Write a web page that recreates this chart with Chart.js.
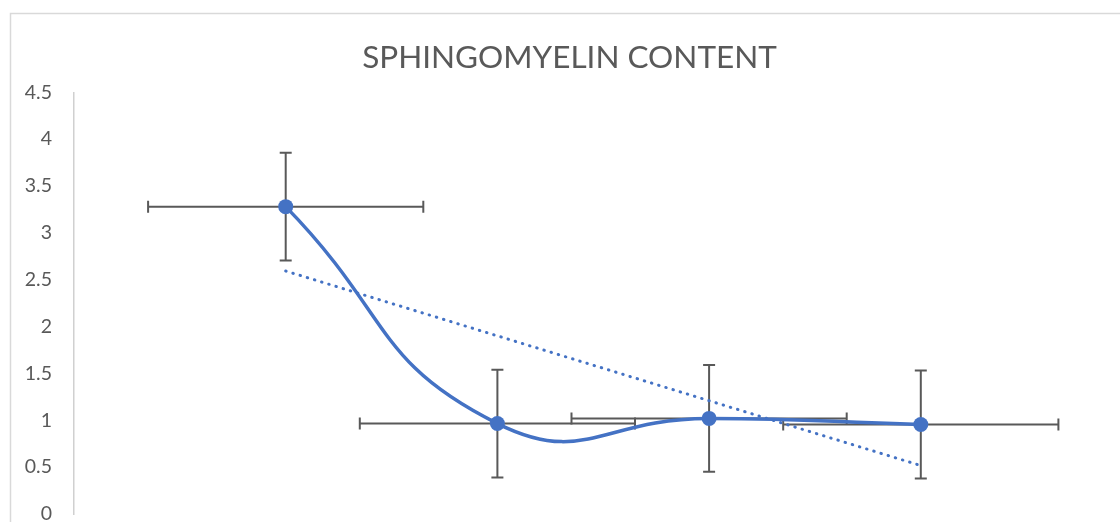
<!DOCTYPE html>
<html>
<head>
<meta charset="utf-8">
<script src="https://cdn.jsdelivr.net/npm/chart.js@4/dist/chart.umd.min.js"></script>
<style>
  html, body { margin: 0; padding: 0; background: #fff; overflow: hidden; }
  #wrap { position: absolute; left: 0; top: 0; width: 1160px; height: 540px; }
</style>
</head>
<body>
<div id="wrap"><canvas id="chart"></canvas></div>
<script>
// -----------------------------
// Data
// -----------------------------
const chartTitle = 'SPHINGOMYELIN CONTENT';
const xValues = [1, 2, 3, 4];
const smValues = [3.28, 0.965, 1.02, 0.955];
const yErrors = [0.575, 0.575, 0.57, 0.575];
const xErrors = [0.65, 0.65, 0.65, 0.65];
const yTicks = [0, 0.5, 1, 1.5, 2, 2.5, 3, 3.5, 4, 4.5];

// linear trendline (least squares, like the spreadsheet's)
function linearFit(xs, ys) {
  const n = xs.length;
  const mx = xs.reduce((a, b) => a + b, 0) / n;
  const my = ys.reduce((a, b) => a + b, 0) / n;
  let num = 0, den = 0;
  for (let i = 0; i < n; i++) {
    num += (xs[i] - mx) * (ys[i] - my);
    den += (xs[i] - mx) * (xs[i] - mx);
  }
  const slope = num / den;
  return x => my + slope * (x - mx);
}
const trend = linearFit(xValues, smValues);

const GREY = '#595959';
const BLUE = '#4472C4';

// -----------------------------
// Plugins: chart border + error bars
// -----------------------------
const frame = {
  id: 'frame',
  beforeDraw(chart) {
    const ctx = chart.ctx;
    ctx.save();
    ctx.strokeStyle = '#d9d9d9';
    ctx.lineWidth = 1.5;
    ctx.strokeRect(10.5, 13.5, chart.width + 50, chart.height + 50);
    ctx.restore();
  }
};

const errorBars = {
  id: 'errorBars',
  beforeDatasetsDraw(chart) {
    const { ctx, scales: { x, y } } = chart;
    const cap = 6;
    ctx.save();
    ctx.strokeStyle = GREY;
    ctx.lineWidth = 2;
    xValues.forEach((xv, i) => {
      const px = x.getPixelForValue(xv);
      const py = y.getPixelForValue(smValues[i]);
      const top = y.getPixelForValue(smValues[i] + yErrors[i]);
      const bot = y.getPixelForValue(smValues[i] - yErrors[i]);
      const lft = x.getPixelForValue(xv - xErrors[i]);
      const rgt = x.getPixelForValue(xv + xErrors[i]);
      ctx.beginPath();
      // vertical
      ctx.moveTo(px, top); ctx.lineTo(px, bot);
      ctx.moveTo(px - cap, top); ctx.lineTo(px + cap, top);
      ctx.moveTo(px - cap, bot); ctx.lineTo(px + cap, bot);
      // horizontal
      ctx.moveTo(lft, py); ctx.lineTo(rgt, py);
      ctx.moveTo(lft, py - cap); ctx.lineTo(lft, py + cap);
      ctx.moveTo(rgt, py - cap); ctx.lineTo(rgt, py + cap);
      ctx.stroke();
    });
    ctx.restore();
  }
};

// -----------------------------
// Chart
// -----------------------------
const ctx = document.getElementById('chart').getContext('2d');
new Chart(ctx, {
  type: 'scatter',
  data: {
    datasets: [
      {
        label: 'Sphingomyelin',
        data: xValues.map((xv, i) => ({ x: xv, y: smValues[i] })),
        showLine: true,
        borderColor: BLUE,
        backgroundColor: BLUE,
        borderWidth: 3.5,
        tension: 0.5,
        pointRadius: 7.5,
        pointBorderWidth: 0,
        pointBackgroundColor: BLUE,
        order: 2
      },
      {
        label: 'Linear trend',
        data: [xValues[0], xValues[xValues.length - 1]].map(xv => ({ x: xv, y: trend(xv) })),
        showLine: true,
        borderColor: BLUE,
        borderWidth: 3,
        borderDash: [0.5, 7],
        borderCapStyle: 'round',
        pointRadius: 0,
        order: 1
      }
    ]
  },
  options: {
    responsive: true,
    maintainAspectRatio: false,
    animation: false,
    layout: { padding: { left: 6.5, right: 27.5, top: 13, bottom: 26 } },
    plugins: {
      legend: { display: false },
      tooltip: { enabled: false },
      title: {
        display: true,
        text: chartTitle,
        color: GREY,
        font: { family: 'Lato', size: 31.5, weight: 'normal' },
        padding: { top: 25.5, bottom: 16 }
      }
    },
    scales: {
      x: {
        type: 'linear',
        display: false,
        min: 0,
        max: 5
      },
      y: {
        min: 0,
        max: 4.5,
        afterBuildTicks: s => { s.ticks = yTicks.map(v => ({ value: v })); },
        afterFit: s => { s.width = 67.5; },
        grid: { color: 'rgba(0,0,0,0)', drawOnChartArea: false, drawTicks: true, tickLength: 20 },
        border: { display: true, color: '#d0d0d0', width: 1.5 },
        ticks: {
          color: GREY,
          padding: 2,
          font: { family: 'Lato', size: 19.5 },
          callback: v => String(v)
        }
      }
    }
  },
  plugins: [frame, errorBars]
});
</script>
</body>
</html>
